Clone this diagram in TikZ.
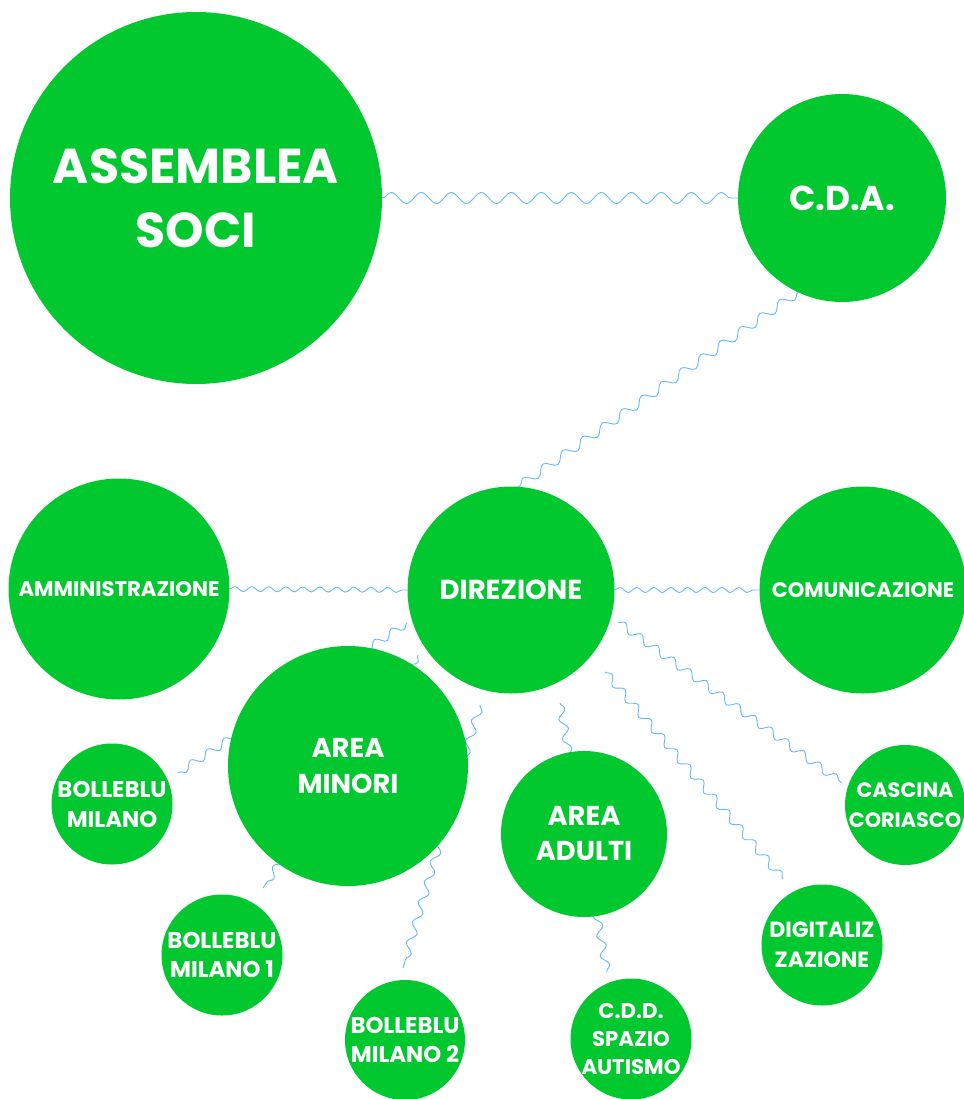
\documentclass[tikz,border=0pt]{standalone}
\usepackage{fontspec}
\setmainfont{Poppins}
\usetikzlibrary{backgrounds,decorations.pathmorphing}
\definecolor{bubble}{RGB}{2,200,47}
\definecolor{wire}{RGB}{100,185,250}
\newcommand\myfs[2]{\fontsize{#1}{#2}\selectfont\bfseries}
\tikzset{
  circ/.style={circle, fill=bubble, draw=none, inner sep=0pt, outer sep=0pt, minimum size=#1},
  txt/.style={text=white, align=center, inner sep=0pt},
  wave/.style 2 args={draw=wire, line width=0.9pt, decorate,
    decoration={snake, amplitude=#1, segment length=#2}},
}
\begin{document}
\begin{tikzpicture}[x=1pt,y=-1pt]
\useasboundingbox (0,0) rectangle (963,1099);
% bubbles
\node[circ=372pt, label={[txt, font=\myfs{49}{64}]center:{ASSEMBLEA\\SOCI}}] (ass) at (196,198) {};
\node[circ=208pt, label={[txt, font=\myfs{34.5}{40}]center:{C.D.A.}}] (cda) at (842,198) {};
\node[circ=207pt, label={[txt, font=\myfs{27.5}{32}]center:{DIREZIONE}}] (dir) at (511,590) {};
\node[circ=221pt, label={[txt, font=\myfs{21.2}{26}]center:{AMMINISTRAZIONE}}] (amm) at (119,589) {};
\node[circ=207pt, label={[txt, font=\myfs{21}{26}]center:{COMUNICAZIONE}}] (com) at (863,590) {};
\node[circ=240pt, label={[txt, font=\myfs{27.3}{36}]center:{AREA\\MINORI}}] (min) at (348,766) {};
\node[circ=166pt, label={[txt, font=\myfs{27.3}{35}]center:{AREA\\ADULTI}}] (adu) at (584,834) {};
\node[circ=121pt, label={[txt, font=\myfs{22.8}{30}]center:{BOLLEBLU\\MILANO}}] (bm) at (112,804) {};
\node[circ=121pt, label={[txt, font=\myfs{22.8}{29}]center:{BOLLEBLU\\MILANO 1}}] (bm1) at (222,955) {};
\node[circ=120pt, label={[txt, font=\myfs{22.8}{29}]center:{BOLLEBLU\\MILANO 2}}] (bm2) at (405,1040) {};
\node[circ=121pt, label={[txt, font=\myfs{21.3}{28}]center:{C.D.D.\\SPAZIO\\AUTISMO}}] (cdd) at (631,1039) {};
\node[circ=120pt, label={[txt, font=\myfs{20.8}{30}]center:{CASCINA\\CORIASCO}}] (cas) at (905,805) {};
\node[circ=121pt, label={[txt, font=\myfs{22}{30}]center:{DIGITALIZ\\ZAZIONE}}] (dig) at (822,945) {};
% free ends of connectors
\coordinate (d-bm) at (407,623);  \coordinate (bm-e) at (178,773);
\coordinate (d-bm1) at (418,655); \coordinate (bm1-e) at (263,888);
\coordinate (d-bm2) at (480,705); \coordinate (bm2-e) at (403,968);
\coordinate (d-cdd) at (560,703); \coordinate (cdd-e) at (607,972);
\coordinate (d-cas) at (618,622); \coordinate (cas-e) at (842,783);
\coordinate (d-dig) at (605,672); \coordinate (dig-e) at (783,879);
\begin{scope}[on background layer]
\draw[wave={5.5pt}{30pt}] (ass.east) -- (cda.west);
\draw[wave={4.5pt}{24pt}] (cda.245) -- (dir.86);
\draw[wave={2.5pt}{17pt}] (amm.east) -- (dir.west);
\draw[wave={2.5pt}{17pt}] (dir.east) -- (com.west);
\draw[wave={4pt}{20pt}] (d-bm) -- (bm-e);
\draw[wave={4pt}{20pt}] (d-bm1) -- (bm1-e);
\draw[wave={4pt}{21pt}] (d-bm2) -- (bm2-e);
\draw[wave={4pt}{20pt}] (d-cdd) -- (cdd-e);
\draw[wave={4pt}{20pt}] (d-cas) -- (cas-e);
\draw[wave={4pt}{20pt}] (d-dig) -- (dig-e);
\end{scope}
\end{tikzpicture}
\end{document}
